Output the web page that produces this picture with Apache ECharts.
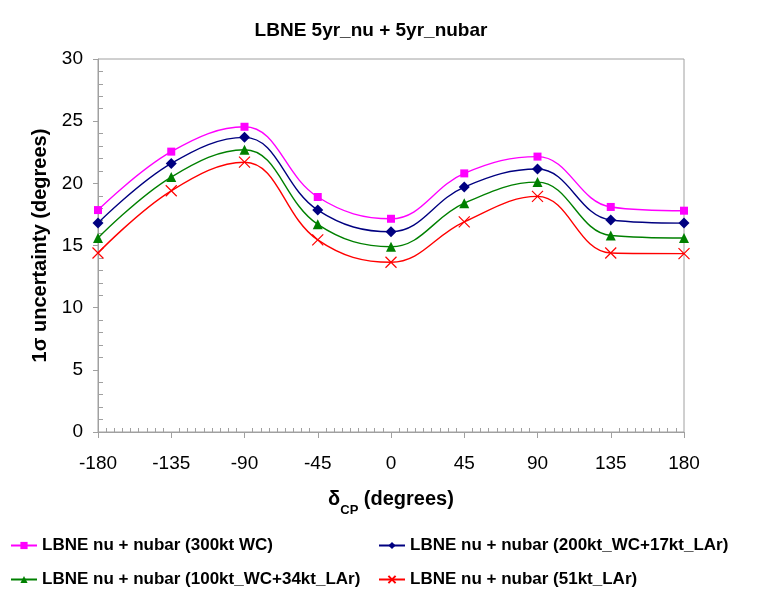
<!DOCTYPE html>
<html><head><meta charset="utf-8">
<script src="https://cdn.jsdelivr.net/npm/echarts@6/dist/echarts.min.js"></script>
<style>html,body{margin:0;padding:0;background:#fff}#c{width:761px;height:601px}</style>
</head><body><div id="c"></div>
<script>
const deltaCP = [-180, -135, -90, -45, 0, 45, 90, 135, 180];
const wc300 = [17.85, 22.55, 24.55, 18.9, 17.15, 20.8, 22.15, 18.1, 17.8];
const wc200lar17 = [16.8, 21.6, 23.7, 17.85, 16.1, 19.7, 21.15, 17.05, 16.8];
const wc100lar34 = [15.6, 20.5, 22.7, 16.7, 14.9, 18.4, 20.1, 15.8, 15.6];
const lar51 = [14.4, 19.4, 21.7, 15.45, 13.65, 16.9, 18.95, 14.4, 14.35];
const seriesNames = ['LBNE nu + nubar (300kt WC)', 'LBNE nu + nubar (200kt_WC+17kt_LAr)', 'LBNE nu + nubar (100kt_WC+34kt_LAr)', 'LBNE nu + nubar (51kt_LAr)'];
const yTicks = [0, 5, 10, 15, 20, 25, 30];

const FONT = 'Liberation Sans, Arial, sans-serif';
const axisGray = '#a0a0a0';
const pair = (vals) => deltaCP.map((x, i) => [x, vals[i]]);
const crossPath = 'path://M0,0L10,10M10,0L0,10';

function mkSeries(name, vals, color, symbol, size, extra) {
  return Object.assign({
    name, type: 'line', data: pair(vals), smooth: 0.4,
    symbol, symbolSize: size, showSymbol: true,
    lineStyle: { color, width: 1.4 },
    itemStyle: { color },
    xAxisIndex: 0, yAxisIndex: 0
  }, extra || {});
}

const legendText = { fontFamily: FONT, fontWeight: 'bold', fontSize: 17, color: '#000' };
function mkLegend(name, left, top) {
  return { data: [name], left, top, itemWidth: 26, itemHeight: 9, itemGap: 0, textStyle: legendText, padding: 0, selectedMode: false };
}

const chart = echarts.init(document.getElementById('c'));
chart.setOption({
  animation: false,
  backgroundColor: '#fff',
  title: { text: 'LBNE 5yr_nu + 5yr_nubar', left: 366, top: 16, textAlign: 'center',
    textStyle: { fontFamily: FONT, fontWeight: 'bold', fontSize: 19, color: '#000' } },
  grid: { left: 98, right: 77, top: 59, bottom: 169, show: true, borderColor: axisGray, borderWidth: 1 },
  legend: [
    mkLegend(seriesNames[0], 10, 537),
    mkLegend(seriesNames[1], 378, 537),
    mkLegend(seriesNames[2], 10, 571),
    mkLegend(seriesNames[3], 378, 571)
  ],
  xAxis: [
    { type: 'value', min: -180, max: 180, interval: 45,
      name: '{d|δ}{s|CP}{d| (degrees)}', nameLocation: 'middle', nameGap: 57,
      nameTextStyle: { rich: {
        d: { fontFamily: FONT, fontWeight: 'bold', fontSize: 20, color: '#000' },
        s: { fontFamily: FONT, fontWeight: 'bold', fontSize: 13, color: '#000', verticalAlign: 'bottom', padding: [0, 0, -8, 0] } } },
      axisLine: { onZero: false, lineStyle: { color: axisGray } },
      axisTick: { show: true, length: 6, lineStyle: { color: axisGray } },
      axisLabel: { fontFamily: FONT, fontSize: 19, color: '#000', margin: 22 },
      splitLine: { show: false } },
    { type: 'value', min: -180, max: 180, interval: 45, position: 'bottom',
      axisLine: { show: false, onZero: false }, axisLabel: { show: false },
      axisTick: { show: false, inside: true },
      minorTick: { show: true, splitNumber: 9, length: 4, lineStyle: { color: axisGray } },
      splitLine: { show: false } }
  ],
  yAxis: [
    { type: 'value', min: yTicks[0], max: yTicks[yTicks.length - 1], interval: 5,
      name: '1σ uncertainty (degrees)', nameLocation: 'middle', nameGap: 39,
      nameTextStyle: { fontFamily: FONT, fontWeight: 'bold', fontSize: 20, color: '#000' },
      axisLine: { show: true, onZero: false, lineStyle: { color: axisGray } },
      axisTick: { show: true, length: 5, lineStyle: { color: axisGray } },
      axisLabel: { fontFamily: FONT, fontSize: 19, color: '#000', margin: 15 },
      splitLine: { show: false } },
    { type: 'value', min: 0, max: 30, interval: 5, position: 'left',
      axisLine: { show: false, onZero: false }, axisLabel: { show: false },
      axisTick: { show: false, inside: true },
      minorTick: { show: true, splitNumber: 5, length: 5, lineStyle: { color: axisGray } },
      splitLine: { show: false } }
  ],
  series: [
    mkSeries(seriesNames[0], wc300, '#ff00ff', 'rect', 8),
    mkSeries(seriesNames[1], wc200lar17, '#000080', 'diamond', 11),
    mkSeries(seriesNames[2], wc100lar34, '#008000', 'triangle', 10),
    mkSeries(seriesNames[3], lar51, '#ff0000', crossPath, 11,
      { itemStyle: { color: 'none', borderColor: '#ff0000', borderWidth: 1.2 } })
  ]
});
</script></body></html>
